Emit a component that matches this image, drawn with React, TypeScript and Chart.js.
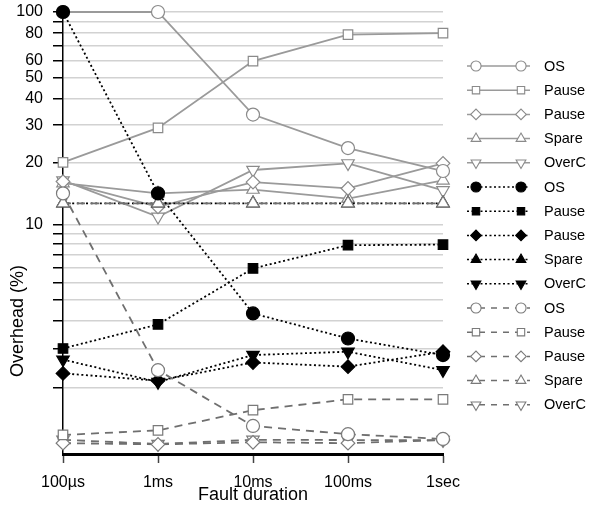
import React, { useEffect, useRef } from 'react';
import { Chart, registerables, LinearScale } from 'chart.js';
import { drawPoint } from 'chart.js/helpers';

Chart.register(...registerables);

class Log1pScale extends LinearScale {
  static id = 'log1p';
  static defaults = { ...(LinearScale as any).defaults };
  getPixelForValue(value: number) {
    const a = Math.log10((this as any).min + 1);
    const b = Math.log10((this as any).max + 1);
    return this.getPixelForDecimal((Math.log10(value + 1) - a) / (b - a));
  }
  getValueForPixel(pixel: number) {
    const a = Math.log10((this as any).min + 1);
    const b = Math.log10((this as any).max + 1);
    return Math.pow(10, a + this.getDecimalForPixel(pixel) * (b - a)) - 1;
  }
}
Chart.register(Log1pScale as any);

const FONT = '"Liberation Sans", Arial, Helvetica, sans-serif';

const categories = ['100µs', '1ms', '10ms', '100ms', '1sec'];
const yTickValues = [1, 2, 3, 4, 5, 6, 7, 8, 9, 10, 20, 30, 40, 50, 60, 70, 80, 90, 100];
const yLabeledTicks = [10, 20, 30, 40, 50, 60, 80, 100];
const seriesLabels = ['OS', 'Pause', 'Pause', 'Spare', 'OverC'];

// solid gray, hollow markers
const solidOS = [100, 100, 33.6, 23.4, 18.2];
const solidPauseSquare = [20, 29.1, 59.5, 78.8, 80];
const solidPauseDiamond = [16.2, 12.2, 16.1, 15.0, 19.8];
const solidSpare = [15.9, 14.2, 14.8, 13.4, 16.4];
const solidOverC = [16.4, 10.9, 18.4, 19.8, 14.7];
// dotted black, filled markers
const dotOS = [100, 14.2, 3.34, 2.34, 1.81];
const dotPauseSquare = [2.01, 2.87, 5.94, 7.85, 7.9];
const dotPauseDiamond = [1.32, 1.15, 1.6, 1.49, 1.91];
const dotSpare = [12.7, 12.7, 12.7, 12.7, 12.7];
const dotOverC = [1.68, 1.12, 1.81, 1.91, 1.4];
// dashed gray, hollow markers
const dashOS = [14.2, 1.4, 0.34, 0.23, 0.17];
const dashPauseSquare = [0.22, 0.28, 0.58, 0.77, 0.77];
const dashPauseDiamond = [0.12, 0.106, 0.13, 0.12, 0.157];
const dashSpare = [12.7, 12.7, 12.7, 12.7, 12.7];
const dashOverC = [0.16, 0.11, 0.16, 0.157, 0.157];

const markerStyles = [
  { pointStyle: 'circle', radius: 6.5, rotation: 0 },
  { pointStyle: 'rect', radius: 6.7, rotation: 0 },
  { pointStyle: 'rectRot', radius: 6.8, rotation: 0 },
  { pointStyle: 'triangle', radius: 7.2, rotation: 0 },
  { pointStyle: 'triangle', radius: 7.2, rotation: 180 },
];

const groups = [
  { data: [solidOS, solidPauseSquare, solidPauseDiamond, solidSpare, solidOverC], line: '#9a9a9a', dash: [] as number[], fill: '#ffffff', border: '#8a8a8a', order: 3 },
  { data: [dotOS, dotPauseSquare, dotPauseDiamond, dotSpare, dotOverC], line: '#000000', dash: [2, 2.6], fill: '#000000', border: '#000000', order: 2 },
  { data: [dashOS, dashPauseSquare, dashPauseDiamond, dashSpare, dashOverC], line: '#6f6f6f', dash: [8, 6], fill: '#ffffff', border: '#7a7a7a', order: 1 },
];

const buildDatasets = () => {
  const out: any[] = [];
  groups.forEach((g, gi) => {
    g.data.forEach((values, si) => {
      const m = markerStyles[si];
      out.push({
        label: seriesLabels[si],
        data: values,
        borderColor: g.line,
        borderWidth: 1.8,
        borderDash: g.dash,
        pointStyle: m.pointStyle,
        pointRadius: m.radius,
        pointRotation: m.rotation,
        pointBackgroundColor: g.fill,
        pointBorderColor: g.border,
        pointBorderWidth: 1.2,
        tension: 0,
        fill: false,
        clip: false,
        order: gi === 1 && si === 0 ? 0 : g.order,
      });
    });
  });
  return out;
};

const LEG_Y0 = 66;
const LEG_DY = 24.2;

const legendPlugin = {
  id: 'pairLegend',
  afterDraw(chart: any) {
    const ctx = chart.ctx;
    chart.data.datasets.forEach((ds: any, i: number) => {
      const y = LEG_Y0 + i * LEG_DY;
      ctx.save();
      ctx.strokeStyle = ds.borderColor;
      ctx.lineWidth = 1.5;
      ctx.setLineDash(ds.borderDash && ds.borderDash.length ? (ds.borderDash[0] > 4 ? [6, 6] : [2, 2.5]) : []);
      ctx.beginPath();
      ctx.moveTo(467, y);
      ctx.lineTo(530, y);
      ctx.stroke();
      ctx.setLineDash([]);
      [476, 521].forEach((x) => {
        ctx.fillStyle = ds.pointBackgroundColor;
        ctx.strokeStyle = ds.pointBorderColor;
        ctx.lineWidth = 1.1;
        drawPoint(ctx, { pointStyle: ds.pointStyle, radius: ds.pointRadius * 0.78, rotation: ds.pointRotation, borderWidth: 1.1 } as any, x, y);
      });
      ctx.fillStyle = '#000';
      ctx.font = `14.5px ${FONT}`;
      ctx.textAlign = 'left';
      ctx.textBaseline = 'middle';
      ctx.fillText(ds.label, 544, y + 0.5);
      ctx.restore();
    });
  },
};

const yTitlePlugin = {
  id: 'yTitle',
  afterDraw(chart: any) {
    const ctx = chart.ctx;
    ctx.save();
    ctx.translate(18, 321);
    ctx.rotate(-Math.PI / 2);
    ctx.fillStyle = '#000';
    ctx.font = `18px ${FONT}`;
    ctx.textAlign = 'center';
    ctx.textBaseline = 'middle';
    ctx.fillText('Overhead (%)', 0, 0);
    ctx.restore();
  },
};

export default function App() {
  const canvasRef = useRef<HTMLCanvasElement | null>(null);

  useEffect(() => {
    if (!canvasRef.current) return;
    const chart = new Chart(canvasRef.current, {
      type: 'line',
      data: { labels: categories, datasets: buildDatasets() },
      options: {
        responsive: false,
        animation: false,
        layout: { padding: { top: 12, right: 152, bottom: 0, left: 0 } },
        plugins: { legend: { display: false }, tooltip: { enabled: false }, title: { display: false } },
        scales: {
          x: {
            type: 'category',
            offset: false,
            afterFit: (scale: any) => { scale.height = 62; scale.paddingLeft = 0; scale.paddingRight = 0; },
            grid: { drawOnChartArea: false, drawTicks: true, tickLength: 9, tickColor: '#444', tickWidth: 1.5 },
            border: { color: '#000', width: 3 },
            ticks: { font: { size: 16, family: FONT }, color: '#000', padding: 10, maxRotation: 0, autoSkip: false },
            title: { display: true, text: 'Fault duration', font: { size: 18, family: FONT }, color: '#000', padding: { top: 0, bottom: 10 } },
          },
          y: {
            type: 'log1p' as any,
            min: 0,
            max: 100,
            afterBuildTicks: (scale: any) => { scale.ticks = yTickValues.map((v) => ({ value: v })); },
            afterFit: (scale: any) => { scale.width = 63; scale.paddingTop = 0; scale.paddingBottom = 0; },
            grid: { color: '#d2d2d2', lineWidth: 1.5, tickColor: '#000', tickLength: 10, tickWidth: 1.5 },
            border: { color: '#000', width: 1.5 },
            ticks: {
              autoSkip: false,
              padding: 10,
              color: '#000',
              font: { size: 16, family: FONT },
              callback: (v: any) => (yLabeledTicks.includes(Number(v)) ? String(v) : ''),
            },
          },
        },
      } as any,
      plugins: [legendPlugin, yTitlePlugin],
    });
    return () => chart.destroy();
  }, []);

  return (
    <div style={{ position: 'fixed', left: 0, top: 0, width: 595, height: 516, background: '#fff' }}>
      <canvas ref={canvasRef} width={595} height={516} style={{ display: 'block' }} />
    </div>
  );
}
